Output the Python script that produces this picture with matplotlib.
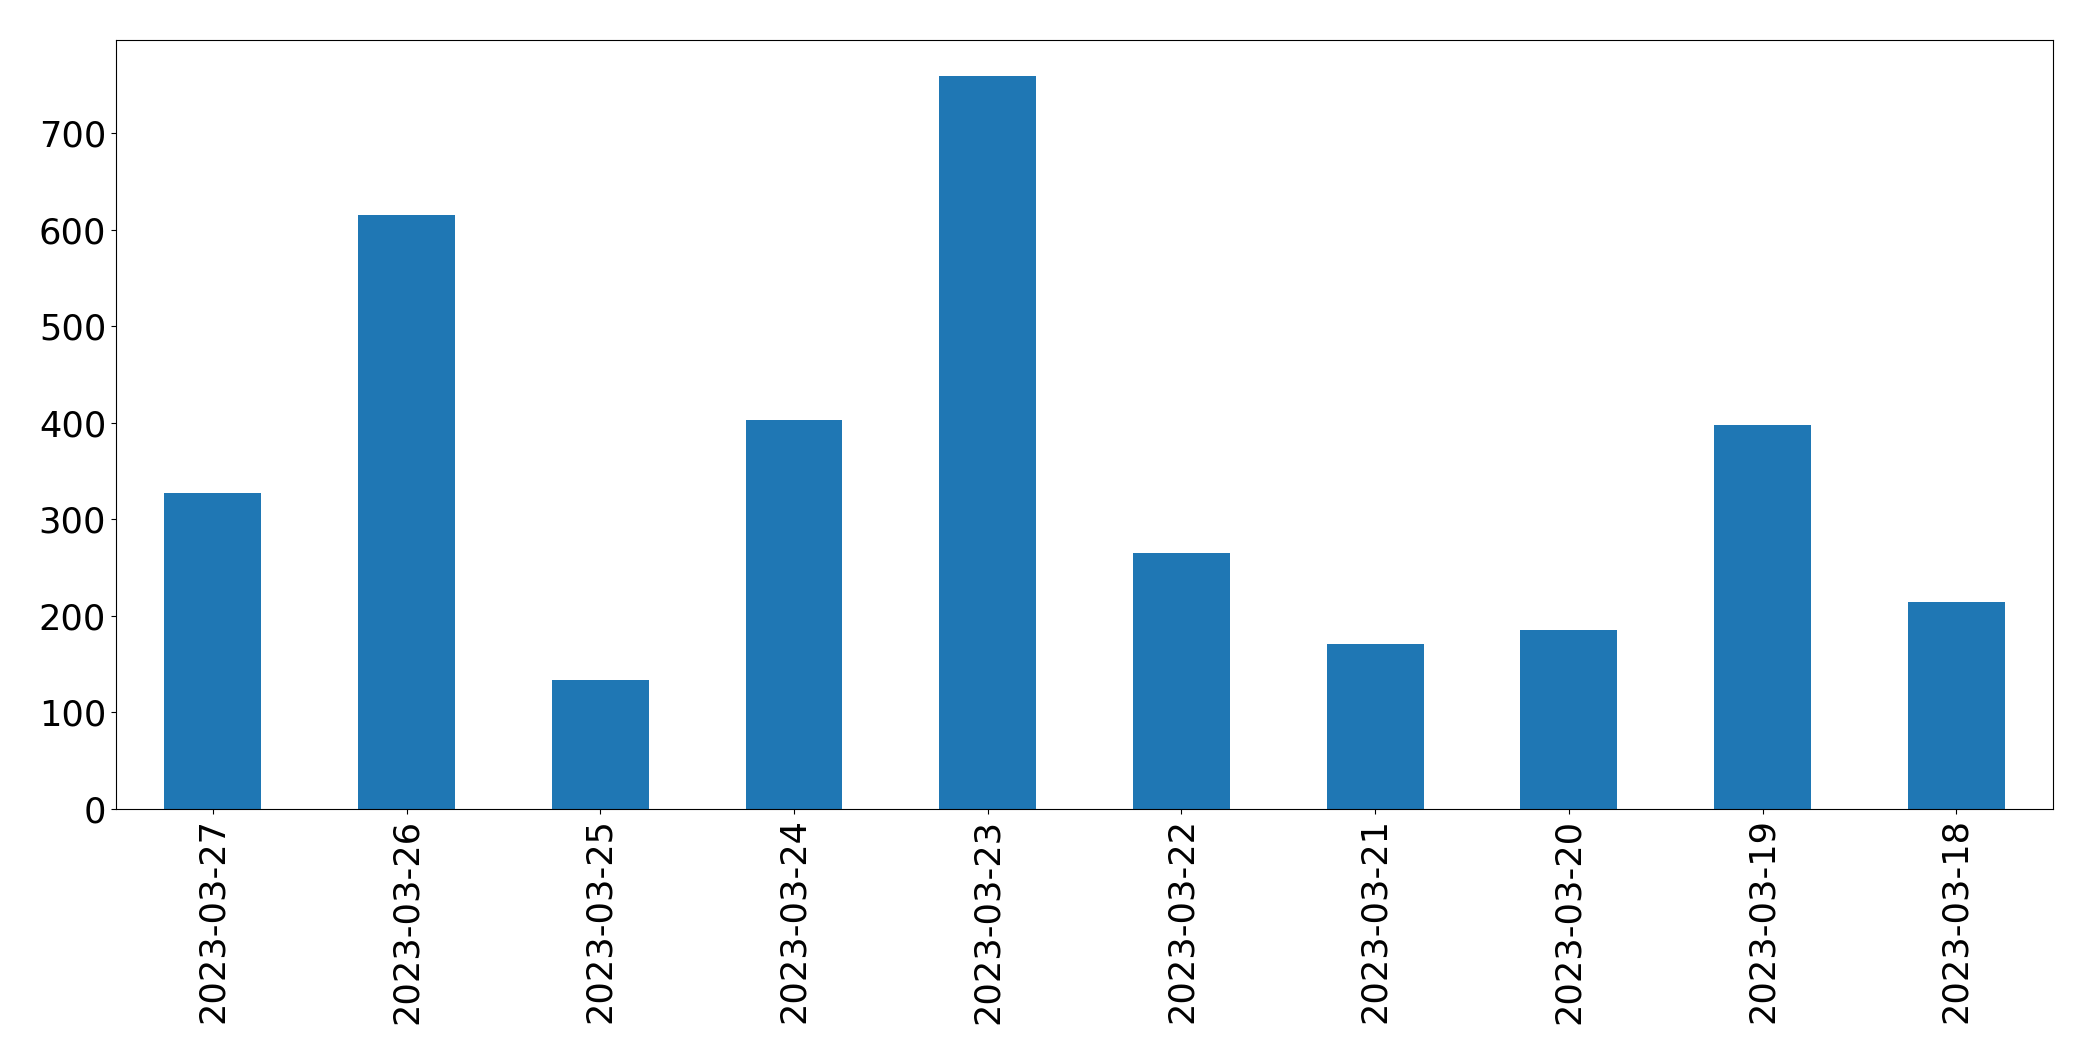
import matplotlib
matplotlib.use("Agg")
import matplotlib.pyplot as plt
import numpy as np

dates = ["2023-03-27", "2023-03-26", "2023-03-25", "2023-03-24", "2023-03-23",
         "2023-03-22", "2023-03-21", "2023-03-20", "2023-03-19", "2023-03-18"]
counts = [327, 615, 133, 403, 759, 265, 171, 185, 398, 214]

fig, ax = plt.subplots(figsize=(20.93, 10.61), dpi=100)
fig.subplots_adjust(left=0.0554, right=0.981, top=0.9627, bottom=0.2378)

x = np.arange(len(dates))
ax.bar(x, counts, width=0.5, color="#1f77b4")
ax.set_xlim(-0.5, len(dates) - 0.5)
ax.set_ylim(0, max(counts) * 1.05)
ax.set_xticks(x)
ax.set_xticklabels(dates, rotation=90)
ax.tick_params(axis="both", labelsize=25.3)

fig.savefig("out.png", dpi=100)
